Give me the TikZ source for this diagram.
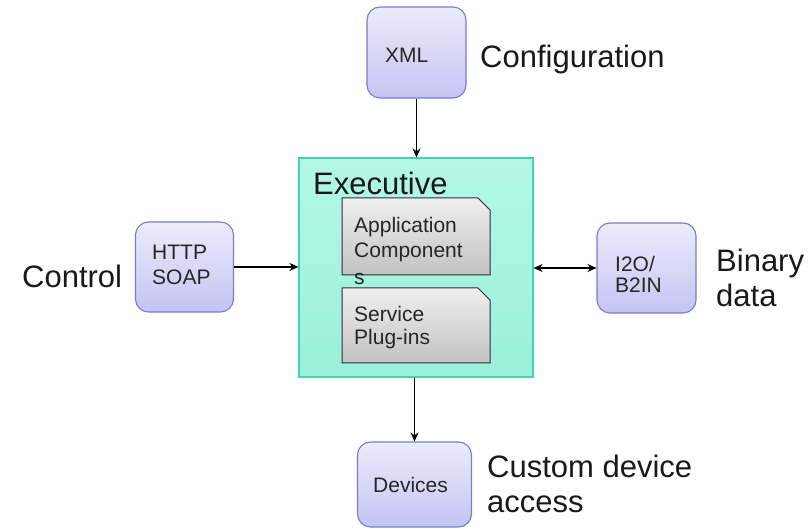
\documentclass[tikz,border=0pt]{standalone}
\usepackage{fontspec}
\setmainfont{Liberation Sans}
\usetikzlibrary{arrows.meta}

\definecolor{boxline}{HTML}{7A7ACF}
\definecolor{boxtop}{HTML}{ECECFC}
\definecolor{boxbot}{HTML}{C4C4F2}
\definecolor{execline}{HTML}{3FD3AE}
\definecolor{exectop}{HTML}{B4F7E6}
\definecolor{execbot}{HTML}{9AF0D8}
\definecolor{comptop}{HTML}{EFEFEF}
\definecolor{compbot}{HTML}{C2C2C2}
\definecolor{compline}{HTML}{2E2E2E}

\tikzset{
  purplebox/.style={draw=boxline, line width=1.1pt, rounded corners=13pt,
    top color=boxtop, bottom color=boxbot, inner sep=0pt},
  boxtext/.style={anchor=base west, align=left, inner sep=0pt,
    font=\fontsize{21}{25}\selectfont, text=black!85},
  execbox/.style={draw=execline, line width=1.2pt, top color=exectop,
    bottom color=execbot, minimum width=234pt, minimum height=219pt, inner sep=0pt},
  compbox/.style={draw=compline, line width=1pt, top color=comptop, bottom color=compbot},
  comptext/.style={anchor=base west, align=left, inner sep=0pt,
    font=\fontsize{21}{25.5}\selectfont, text=black!85},
  biglabel/.style={anchor=base west, align=left, inner sep=0pt,
    font=\fontsize{31}{35}\selectfont, text=black!90},
  tip/.tip={Stealth[length=9pt,width=8pt]},
  link/.style={line width=1.1pt, -tip},
  dlink/.style={line width=1.1pt, tip-tip}
}

\begin{document}
\begin{tikzpicture}[x=1pt,y=-1pt]
  \useasboundingbox (0,0) rectangle (812,529);

  % central executive container
  \node[execbox] (exec) at (416,267.5) {};
  \node[anchor=base west, inner sep=0pt, font=\fontsize{31}{35}\selectfont, text=black!90]
    (exectitle) at (313,195) {Executive};

  % components with folded corner (base anchor sits on the last line)
  \path[compbox] (342,198) -- (478,198) -- (490,210) -- (490,275) -- (342,275) -- cycle;
  \node[comptext] (appcomp) at (354,285) {Application\\Component\\[1.5pt]s};
  \path[compbox] (342,288) -- (478,288) -- (490,300) -- (490,363) -- (342,363) -- cycle;
  \node[comptext, font=\fontsize{21}{23}\selectfont] (plugins) at (354,345) {Service\\Plug-ins};

  % surrounding interfaces
  \node[purplebox, minimum width=99pt, minimum height=91pt] (xml) at (416.5,52.5) {};
  \node[boxtext] (xmltext) at (385,63) {XML};
  \node[purplebox, minimum width=98pt, minimum height=90pt] (http) at (184.5,267) {};
  \node[boxtext] (httptext) at (152,285) {HTTP\\SOAP};
  \node[purplebox, minimum width=99pt, minimum height=90pt] (i2o) at (646.5,268) {};
  \node[boxtext, font=\fontsize{21}{21.5}\selectfont] (i2otext) at (615,293) {I2O/\\B2IN};
  \node[purplebox, minimum width=114pt, minimum height=85pt] (dev) at (414.5,484.5) {};
  \node[boxtext] (devtext) at (373,493) {Devices};

  % labels
  \node[biglabel] (lconf) at (480,68) {Configuration};
  \node[biglabel] (lctrl) at (22,288) {Control};
  \node[biglabel] (lbin) at (716,307) {Binary\\data};
  \node[biglabel] (ldev) at (487,512) {Custom device\\access};

  % connectors
  \draw[link] (xml.south) -- (xml.south |- exec.north);
  \draw[link] (http.east) -- (http.east -| exec.west);
  \draw[dlink] (exec.east |- i2o.west) -- (i2o.west);
  \draw[link] (exec.south -| dev.north) -- (dev.north);
\end{tikzpicture}
\end{document}
